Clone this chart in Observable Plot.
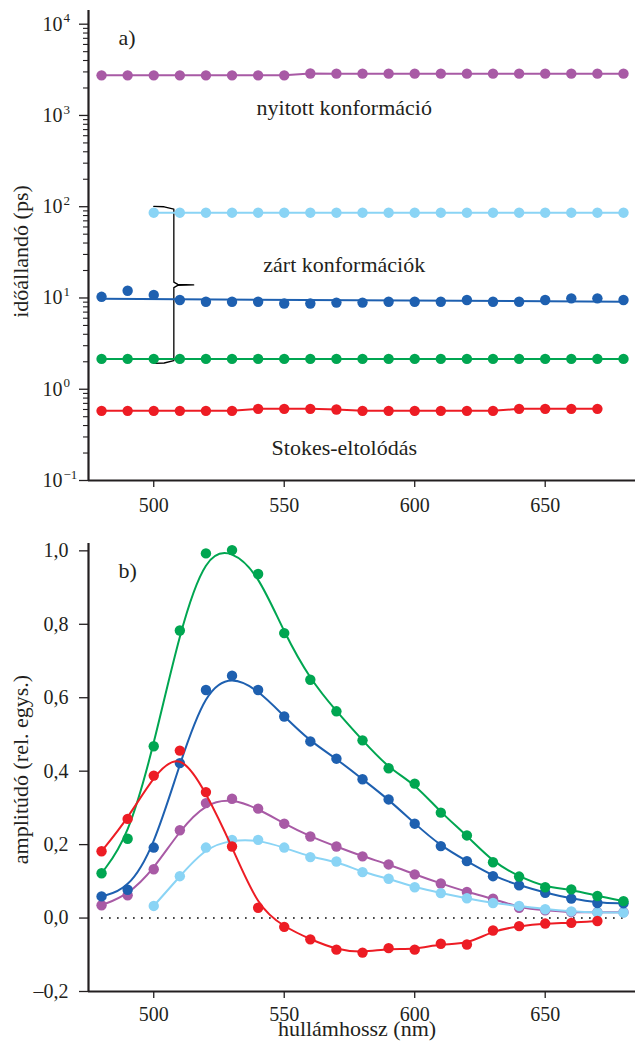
<!DOCTYPE html>
<html><head><meta charset="utf-8">
<script src="https://cdn.jsdelivr.net/npm/d3@7"></script>
<script src="https://cdn.jsdelivr.net/npm/@observablehq/plot@0.6"></script>
<style>
body{margin:0;background:#fff;}
#chart{width:635px;}
#chart svg{display:block;overflow:visible;}
</style></head><body><div id="chart"></div>
<script>
// ---------- data ----------
const wavelengths = [480,490,500,510,520,530,540,550,560,570,580,590,600,610,620,630,640,650,660,670,680];

// panel a) time constants (ps)
const tauOpen    = [2750,2750,2750,2750,2750,2750,2750,2750,2880,2870,2870,2870,2870,2870,2870,2870,2870,2870,2870,2870,2870];
const tauClosed1 = [null,null,86,86,86,86,86,86,86,86,86,86,86,86,86,86,86,86,86,86,86];
const tauClosed2 = [10.3,12.0,10.8,9.5,9.1,9.1,9.1,8.7,8.7,8.9,8.9,9.1,9.1,9.1,9.5,9.1,9.1,9.5,9.9,9.9,9.5];
const tauClosed3 = [2.15,2.15,2.15,2.15,2.15,2.15,2.15,2.15,2.15,2.15,2.15,2.15,2.15,2.15,2.15,2.15,2.15,2.15,2.15,2.15,2.15];
const tauStokes  = [0.58,0.58,0.58,0.58,0.58,0.58,0.61,0.61,0.61,0.60,0.58,0.58,0.58,0.58,0.58,0.58,0.61,0.61,0.61,0.61,null];

// panel b) amplitudes (rel. units)
const ampOpen    = [0.035,0.062,0.133,0.239,0.313,0.325,0.298,0.257,0.222,0.195,0.168,0.146,0.119,0.094,0.071,0.053,0.028,0.021,0.016,0.016,0.016];
const ampClosed1 = [null,null,0.033,0.114,0.192,0.213,0.213,0.192,0.166,0.154,0.125,0.107,0.084,0.068,0.054,0.041,0.033,0.024,0.018,0.015,0.015];
const ampClosed2 = [0.059,0.077,0.192,0.422,0.621,0.660,0.621,0.549,0.481,0.434,0.378,0.323,0.257,0.196,0.155,0.114,0.089,0.069,0.053,0.041,0.040];
const ampClosed3 = [0.122,0.216,0.468,0.783,0.993,1.002,0.937,0.776,0.649,0.563,0.484,0.408,0.366,0.287,0.225,0.152,0.113,0.084,0.078,0.060,0.046];
const ampStokes  = [0.182,0.270,0.388,0.456,0.343,0.195,0.028,-0.024,-0.058,-0.086,-0.094,-0.082,-0.086,-0.070,-0.072,-0.034,-0.022,-0.015,-0.013,-0.008,null];

const seriesNames  = ["open","closed1","closed2","closed3","stokes"];
const seriesColors = ["#A85AA5","#8AD4F5","#1E60B0","#00A651","#ED1C24"];

const xTicks = [500,550,600,650];
const logMajor = [0.1,1,10,100,1000,10000];
const logExp = ["−1","0","1","2","3","4"];
const linTicks = [-0.2,0,0.2,0.4,0.6,0.8,1.0];

const labelsA = [
  {x:573, y:1200, text:"nyitott konformáció"},
  {x:573, y:23, text:"zárt konformációk"},
  {x:573, y:0.225, text:"Stokes-eltolódás"}
];

// ---------- helpers ----------
const FF = "Liberation Serif";
const INK = "#231F20";
const LAB = 22, TICK = 20;
function tidy(arrs){
  const out=[];
  arrs.forEach((a,s)=>a.forEach((v,i)=>{ if(v!=null) out.push({x:wavelengths[i], y:v, s}); }));
  return out;
}
const tauData = tidy([tauOpen,tauClosed1,tauClosed2,tauClosed3,tauStokes]);
const ampData = tidy([ampOpen,ampClosed1,ampClosed2,ampClosed3,ampStokes]);
const logMinor = [];
for (let k=-1;k<=3;k++) for (let m=2;m<=9;m++) logMinor.push(m*Math.pow(10,k));

// brace derived from the closed-conformation lines
const bTop = Math.log10(tauClosed1[2])+0.07, bBot = Math.log10(tauClosed3[2])-0.05, bMid=(bTop+bBot)/2;
const bx0 = wavelengths[2], bx1 = bx0+7.7, bx2 = bx0+15.3;
const brace = [[bx0,bTop],[bx0+4,bTop-0.005],[bx1,bTop-0.03],[bx1,bMid+0.03],[bx1+1.5,bMid+0.005],[bx2,bMid],
               [bx1+1.5,bMid-0.005],[bx1,bMid-0.03],[bx1,bBot+0.03],[bx0+4,bBot+0.005],[bx0,bBot]]
               .map(([x,v])=>({x, y:Math.pow(10,v)}));

const xDom = [475, 684.6];

// ---------- panel a ----------
const yDomA = [0.1, 14125];
const markSeries = (data, s, lineOpts) => [
  Plot.line(data.filter(d=>d.s===s), {x:"x", y:"y", stroke:seriesColors[s], strokeWidth:2, ...lineOpts}),
  Plot.dot(data.filter(d=>d.s===s), {x:"x", y:"y", fill:seriesColors[s], r:5.2})
];
const plotA = Plot.plot({
  width:635, height:520, marginLeft:88, marginRight:0, marginTop:10, marginBottom:40,
  style:{background:"white", overflow:"visible"},
  x:{domain:xDom},
  y:{type:"log", domain:yDomA},
  marks:[
    Plot.ruleX([xDom[0]], {stroke:INK, strokeWidth:2.2}),
    Plot.ruleY([yDomA[0]], {stroke:INK, strokeWidth:2.2}),
    Plot.axisX({ticks:xTicks, tickSize:7, tickPadding:10, label:null, stroke:INK, strokeWidth:1.3, fill:INK, fontSize:TICK, fontFamily:FF}),
    Plot.axisY({ticks:logMinor, tickSize:5, tickFormat:()=>"", label:null, stroke:INK, strokeWidth:1.1}),
    Plot.axisY({ticks:logMajor, tickSize:9, tickFormat:()=>"", label:null, stroke:INK, strokeWidth:1.3}),
    Plot.text(logMajor, {y:d=>d, text:()=>"10", frameAnchor:"left", textAnchor:"end", dx:-26, fill:INK, fontSize:TICK, fontFamily:FF}),
    Plot.text(logMajor, {y:d=>d, text:(d,i)=>logExp[i], frameAnchor:"left", textAnchor:"start", dx:-25, dy:-6, fill:INK, fontSize:13, fontFamily:FF}),
    Plot.text(["időállandó (ps)"], {frameAnchor:"left", textAnchor:"middle", rotate:-90, dx:-68, dy:6, fill:INK, fontSize:LAB, fontFamily:FF}),
    Plot.text(["a)"], {frameAnchor:"top-left", dx:30, dy:19, textAnchor:"start", fill:INK, fontSize:LAB, fontFamily:FF}),
    Plot.text(labelsA, {x:"x", y:"y", text:"text", fill:INK, fontSize:LAB, fontFamily:FF}),
    Plot.line(brace, {x:"x", y:"y", stroke:"#000", strokeWidth:1.3, curve:"linear"}),
    ...markSeries(tauData, 0),
    ...markSeries(tauData, 1),
    Plot.linearRegressionY(tauData.filter(d=>d.s===2), {x:"x", y:"y", stroke:seriesColors[2], strokeWidth:2, ci:0}),
    Plot.dot(tauData.filter(d=>d.s===2), {x:"x", y:"y", fill:seriesColors[2], r:5.2}),
    ...markSeries(tauData, 3),
    ...markSeries(tauData, 4)
  ]
});

// ---------- panel b ----------
const yDomB = [-0.2, 1.02];
const fmt = d => d.toFixed(1).replace(".", ",").replace("-", "–");
const plotB = Plot.plot({
  width:635, height:528, marginLeft:88, marginRight:0, marginTop:23, marginBottom:57,
  style:{background:"white", overflow:"visible"},
  x:{domain:xDom},
  y:{domain:yDomB},
  marks:[
    Plot.ruleX([xDom[0]], {stroke:INK, strokeWidth:2.2}),
    Plot.ruleY([yDomB[0]], {stroke:INK, strokeWidth:2.2}),
    Plot.ruleY([0], {x1:wavelengths[0], x2:wavelengths[wavelengths.length-1], stroke:"#000", strokeWidth:1.6, strokeDasharray:"1.6,6.4"}),
    Plot.axisX({ticks:xTicks, tickSize:7, tickPadding:8, label:null, stroke:INK, strokeWidth:1.3, fill:INK, fontSize:TICK, fontFamily:FF}),
    Plot.axisY({ticks:linTicks, tickSize:9, tickPadding:11, tickFormat:fmt, label:null, stroke:INK, strokeWidth:1.3, fill:INK, fontSize:TICK, fontFamily:FF}),
    Plot.text(["amplitúdó (rel. egys.)"], {frameAnchor:"left", textAnchor:"middle", rotate:-90, dx:-68, dy:2, fill:INK, fontSize:LAB, fontFamily:FF}),
    Plot.text(["hullámhossz (nm)"], {frameAnchor:"bottom", textAnchor:"middle", dx:-5, dy:44, fill:INK, fontSize:LAB, fontFamily:FF}),
    Plot.text(["b)"], {frameAnchor:"top-left", dx:30, dy:19, textAnchor:"start", fill:INK, fontSize:LAB, fontFamily:FF}),
    ...[0,1,2,3,4].flatMap(s => markSeries(ampData, s, {curve:"basis"}))
  ]
});

document.getElementById("chart").append(plotA, plotB);
</script>
</body></html>
